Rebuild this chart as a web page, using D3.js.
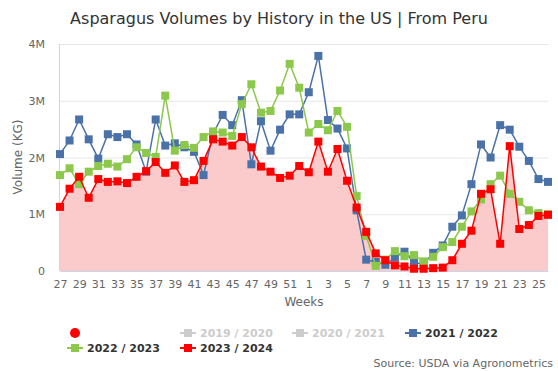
<!DOCTYPE html>
<html><head><meta charset="utf-8">
<script src="https://cdn.jsdelivr.net/npm/d3@7"></script>
<style>body{margin:0;background:#fff}svg{display:block}text{font-family:"DejaVu Sans",sans-serif}</style>
</head><body><svg id="c" width="558" height="371"></svg>
<script>
const weeks = [27,28,29,30,31,32,33,34,35,36,37,38,39,40,41,42,43,44,45,46,47,48,49,50,51,52,1,2,3,4,5,6,7,8,9,10,11,12,13,14,15,16,17,18,19,20,21,22,23,24,25,26];
const tickWeeks = [27,29,31,33,35,37,39,41,43,45,47,49,51,1,3,5,7,9,11,13,15,17,19,21,23,25];
const yTicks = [0,1e6,2e6,3e6,4e6];
const s2122 = [2.06,2.30,2.67,2.32,1.98,2.41,2.36,2.41,2.23,1.75,2.67,2.21,2.25,2.18,2.10,1.69,2.42,2.75,2.57,3.01,1.88,2.64,2.12,2.49,2.76,2.76,3.15,3.79,2.66,2.51,2.16,1.07,0.20,0.16,0.11,0.24,0.34,0.15,0.12,0.32,0.45,0.78,0.98,1.53,2.23,2.00,2.57,2.49,2.19,1.94,1.62,1.57];
const s2223 = [1.69,1.81,1.53,1.75,1.85,1.89,1.84,1.97,2.18,2.08,2.01,3.09,2.12,2.22,2.17,2.36,2.46,2.44,2.38,2.94,3.29,2.79,2.82,3.18,3.65,3.23,2.44,2.59,2.48,2.82,2.54,1.32,0.62,0.09,0.20,0.35,0.26,0.28,0.17,0.25,0.42,0.51,0.78,1.05,1.26,1.53,1.68,1.36,1.22,1.07,1.02,1.00];
const s2324 = [1.13,1.45,1.66,1.29,1.62,1.57,1.58,1.55,1.66,1.76,1.92,1.73,1.86,1.57,1.60,1.94,2.32,2.28,2.21,2.36,2.18,1.84,1.75,1.64,1.68,1.85,1.74,2.28,1.75,2.15,1.59,1.12,0.69,0.31,0.19,0.10,0.08,0.04,0.04,0.05,0.06,0.19,0.48,0.71,1.36,1.44,0.48,2.20,0.74,0.81,0.97,0.99];

const svg = d3.select("#c");
const L=60,R=548,T=44,B=271;
const x = d3.scalePoint().domain(d3.range(weeks.length)).range([L,R]);
const y = d3.scaleLinear().domain([0,4e6]).range([B,T]);

// title
svg.append("text").attr("x",279).attr("y",24).attr("text-anchor","middle").attr("font-size",16).attr("fill","#333").text("Asparagus Volumes by History in the US | From Peru");

// grid
svg.append("g").selectAll("line").data(yTicks).join("line").attr("x1",L).attr("x2",R).attr("y1",d=>y(d)+0.5).attr("y2",d=>y(d)+0.5).attr("stroke","#e6e6e6");
// y axis labels
const yAxis = d3.axisLeft(y).tickValues(yTicks).tickFormat(d=>d===0?"0":(d/1e6)+"M").tickSize(0).tickPadding(0);
const gy = svg.append("g").attr("transform",`translate(${45},0)`).call(yAxis);
gy.select(".domain").remove();
gy.selectAll("text").attr("font-size",11).attr("fill","#666").attr("font-family","DejaVu Sans");
svg.append("line").attr("x1",L-0.5).attr("x2",L-0.5).attr("y1",T).attr("y2",B).attr("stroke","#ccd6eb");

// area under red
const data3 = s2324.map((v,i)=>[i,v*1e6]);
svg.append("path").datum(data3).attr("fill","#fbcbcb")
  .attr("d",d3.area().x(d=>x(d[0])).y0(B).y1(d=>y(d[1])));

// x axis
const xAxis = d3.axisBottom(x).tickValues(d3.range(weeks.length).filter(i=>tickWeeks.includes(weeks[i]) && (i<26 ? weeks[i]>=27 : weeks[i]<27))).tickFormat(i=>weeks[i]).tickSize(0).tickPadding(9);
const gx = svg.append("g").attr("transform",`translate(0,${B})`).call(xAxis);
gx.select(".domain").attr("stroke","#ccd6eb");
gx.selectAll("text").attr("font-size",11).attr("fill","#666").attr("font-family","DejaVu Sans");

svg.append("text").attr("x",304).attr("y",306).attr("text-anchor","middle").attr("font-size",12).attr("fill","#666").text("Weeks");
svg.append("text").attr("transform","translate(22,157) rotate(-90)").attr("text-anchor","middle").attr("font-size",12).attr("fill","#666").text("Volume (KG)");

const series = [
  {name:"2021 / 2022", vals:s2122, color:"#4a72a8"},
  {name:"2022 / 2023", vals:s2223, color:"#8cc84b"},
  {name:"2023 / 2024", vals:s2324, color:"#ff0000"}
];
const line = d3.line().x(d=>x(d[0])).y(d=>y(d[1]));
series.forEach(s=>{
  const d = s.vals.map((v,i)=>[i,v*1e6]);
  svg.append("path").datum(d).attr("fill","none").attr("stroke",s.color).attr("stroke-width",1.5).attr("d",line);
  svg.append("g").selectAll("rect").data(d).join("rect")
    .attr("x",p=>x(p[0])-4).attr("y",p=>y(p[1])-4).attr("width",8).attr("height",8).attr("fill",s.color);
});

// legend
svg.append("circle").attr("cx",75).attr("cy",333).attr("r",5).attr("fill","#ff0000");
const legend = [
  {name:"2019 / 2020", color:"#cccccc", tc:"#cccccc", x:180, y:333},
  {name:"2020 / 2021", color:"#cccccc", tc:"#cccccc", x:292, y:333},
  {name:"2021 / 2022", color:"#4a72a8", tc:"#333", x:405, y:333},
  {name:"2022 / 2023", color:"#8cc84b", tc:"#333", x:67, y:348},
  {name:"2023 / 2024", color:"#ff0000", tc:"#333", x:180, y:348}
];
const lg = svg.append("g").selectAll("g").data(legend).join("g").attr("transform",d=>`translate(${d.x},${d.y})`);
lg.append("line").attr("x1",0).attr("x2",16).attr("stroke",d=>d.color).attr("stroke-width",2);
lg.append("rect").attr("x",4).attr("y",-4).attr("width",8).attr("height",8).attr("fill",d=>d.color);
lg.append("text").attr("x",20).attr("y",4).attr("font-size",11).attr("font-weight","bold").attr("fill",d=>d.tc).text(d=>d.name);

svg.append("text").attr("x",553).attr("y",367).attr("text-anchor","end").attr("font-size",11).attr("fill","#666").text("Source: USDA via Agronometrics");
</script></body></html>
